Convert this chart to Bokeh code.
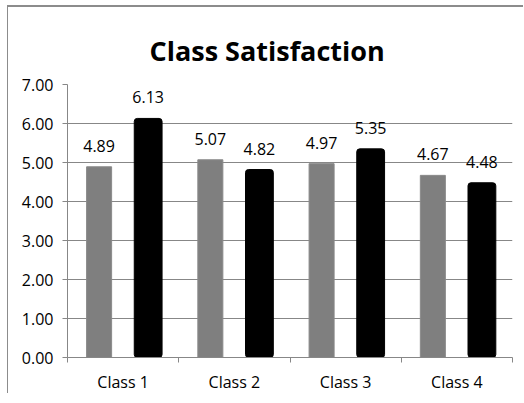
from bokeh.plotting import figure
from bokeh.models import ColumnDataSource, Range1d, FixedTicker, CustomJSTickFormatter
from bokeh.transform import dodge
from bokeh.core.properties import value
from bokeh.embed import file_html
from bokeh.resources import INLINE

title = "Class Satisfaction"
categories = ["Class 1", "Class 2", "Class 3", "Class 4"]
series_a = [4.89, 5.07, 4.97, 4.67]   # gray bars
series_b = [6.13, 4.82, 5.35, 4.48]   # black bars
y_ticks = [0, 1, 2, 3, 4, 5, 6, 7]

pos = [i + 0.5 for i in range(len(categories))]
src = ColumnDataSource(dict(
    x=pos, a=series_a, b=series_b,
    a_lbl=[f"{v:.2f}" for v in series_a],
    b_lbl=[f"{v:.2f}" for v in series_b],
))

p = figure(width=516, height=388, output_backend="svg", toolbar_location=None,
           x_range=Range1d(0, len(categories)), y_range=Range1d(0, 7),
           min_border_left=59, min_border_right=12, min_border_top=77, min_border_bottom=37,
           title=title)
# chart-area border: grey line along the top and the left edge
p.styles = {"margin-top": "5px", "margin-left": "7px",
            "border-top": "2px solid #8c8c8c", "border-left": "1px solid #8c8c8c"}
p.outline_line_color = None
p.background_fill_color = "white"
p.border_fill_color = "white"

p.title.text_font = "Open Sans"
p.title.text_font_style = "bold"
p.title.text_font_size = "27px"
p.title.text_color = "#000000"
p.title.align = "left"
p.title.offset = 82
p.title.vertical_align = "bottom"
p.title.standoff = 32

grid_col = "#878787"

p.vbar(x=dodge("x", -0.216, range=p.x_range), top="a", width=0.225, bottom=0,
       source=src, fill_color="#7f7f7f", line_color="#8a8a8a", line_width=1)
p.vbar(x=dodge("x", 0.225, range=p.x_range), top="b", width=0.25, bottom=0,
       source=src, fill_color="#000000", line_color="#000000", line_width=1,
       border_radius=3)

p.text(x=dodge("x", -0.216, range=p.x_range), y="a", text="a_lbl", source=src,
       text_align="center", text_baseline="alphabetic", y_offset=-21,
       text_font=value("Open Sans"), text_font_size="16px", text_color="#000000")
p.text(x=dodge("x", 0.225, range=p.x_range), y="b", text="b_lbl", source=src,
       text_align="center", text_baseline="alphabetic", y_offset=-21,
       text_font=value("Open Sans"), text_font_size="16px", text_color="#000000")

# y axis
p.yaxis.ticker = FixedTicker(ticks=y_ticks, minor_ticks=[])
p.yaxis.formatter = CustomJSTickFormatter(code="return tick.toFixed(2);")
p.yaxis.major_label_text_font = "Open Sans"
p.yaxis.major_label_text_font_size = "16px"
p.yaxis.major_label_text_color = "#000000"
p.yaxis.major_tick_in = 0
p.yaxis.major_tick_out = 5
p.yaxis.minor_tick_line_color = None
p.yaxis.axis_line_color = grid_col
p.yaxis.major_tick_line_color = grid_col
p.yaxis.major_label_standoff = 9

# x axis: labels at centers, ticks at boundaries
p.xaxis.ticker = FixedTicker(ticks=pos, minor_ticks=list(range(len(categories) + 1)))
p.xaxis.major_label_overrides = {pv: c for pv, c in zip(pos, categories)}
p.xaxis.major_label_text_font = "Open Sans"
p.xaxis.major_label_text_font_size = "16px"
p.xaxis.major_label_text_color = "#000000"
p.xaxis.major_tick_line_color = None
p.xaxis.minor_tick_in = 0
p.xaxis.minor_tick_out = 5
p.xaxis.minor_tick_line_color = grid_col
p.xaxis.axis_line_color = grid_col
p.xaxis.major_label_standoff = 7

p.xgrid.grid_line_color = None
p.ygrid.ticker = FixedTicker(ticks=y_ticks)
p.ygrid.grid_line_color = grid_col
p.ygrid.grid_line_width = 1

open("out.html", "w").write(file_html(p, INLINE))
